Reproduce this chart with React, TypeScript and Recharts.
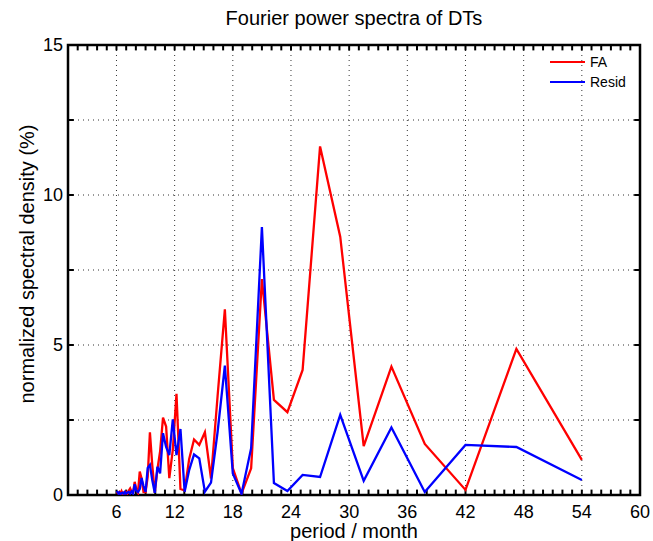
import React from 'react';
import {
  LineChart, Line, XAxis, YAxis, CartesianGrid, ReferenceLine, ReferenceArea, Legend,
} from 'recharts';

// period (months), ascending
const PERIOD = [
  6.00, 6.10, 6.20, 6.30, 6.41, 6.52, 6.63, 6.75, 6.87, 7.00,
  7.13, 7.27, 7.41, 7.56, 7.71, 7.88, 8.04, 8.22, 8.40, 8.59,
  8.79, 9.00, 9.22, 9.45, 9.69, 9.95, 10.22, 10.50, 10.80, 11.12,
  11.45, 11.81, 12.19, 12.60, 13.03, 13.50, 14.00, 14.54, 15.12, 15.75,
  16.43, 17.18, 18.00, 18.90, 19.89, 21.00, 22.24, 23.63, 25.20, 27.00,
  29.08, 31.50, 34.36, 37.80, 42.00, 47.25, 54.00,
];

const FA = [
  0.05, 0.08, 0.06, 0.10, 0.05, 0.13, 0.04, 0.08, 0.05, 0.10,
  0.05, 0.15, 0.22, 0.10, 0.08, 0.44, 0.20, 0.08, 0.78, 0.55,
  0.10, 0.10, 0.60, 2.09, 1.00, 0.07, 0.85, 1.45, 2.58, 2.28,
  0.56, 1.50, 3.37, 0.20, 0.15, 1.20, 1.85, 1.67, 2.09, 0.55,
  3.30, 6.19, 0.90, 0.05, 0.89, 7.20, 3.17, 2.76, 4.17, 11.62,
  8.61, 1.63, 4.28, 1.70, 0.17, 4.87, 1.17,
];

const RESID = [
  0.08, 0.10, 0.05, 0.08, 0.03, 0.06, 0.08, 0.04, 0.10, 0.05,
  0.08, 0.10, 0.05, 0.12, 0.05, 0.36, 0.15, 0.10, 0.20, 0.57,
  0.30, 0.10, 0.90, 1.00, 0.50, 0.07, 0.94, 0.72, 2.06, 1.60,
  1.33, 2.52, 1.33, 2.20, 0.11, 0.83, 1.35, 1.22, 0.11, 0.41,
  2.10, 4.31, 0.72, 0.04, 1.56, 8.93, 0.40, 0.13, 0.67, 0.60,
  2.67, 0.47, 2.25, 0.10, 1.67, 1.60, 0.50,
];

const X_TICKS = [6, 12, 18, 24, 30, 36, 42, 48, 54, 60];
const Y_TICKS = [0, 5, 10, 15];
const GRID_X = [6, 12, 18, 24, 30, 36, 42, 48, 54];
const GRID_Y = [2.5, 5, 7.5, 10, 12.5];
const MINOR_X = Array.from({ length: 58 }, (_, i) => i + 2);
const X_DOMAIN: [number, number] = [1, 60];
const Y_DOMAIN: [number, number] = [0, 15];

const FONT = '"Liberation Sans", Arial, Helvetica, sans-serif';

const data = PERIOD.map((p, i) => ({ period: p, FA: FA[i], Resid: RESID[i] }));

const LegendBox = () => (
  <div style={{ fontFamily: FONT, fontSize: 14, color: '#000' }}>
    {[{ name: 'FA', color: '#ff0000' }, { name: 'Resid', color: '#0000ff' }].map((s) => (
      <div key={s.name} style={{ display: 'flex', alignItems: 'center', height: 20 }}>
        <svg width={38} height={20} style={{ display: 'block' }}>
          <line x1={1} y1={10} x2={36} y2={10} stroke={s.color} strokeWidth={2.2} />
        </svg>
        <span style={{ marginLeft: 3, lineHeight: '20px' }}>{s.name}</span>
      </div>
    ))}
  </div>
);

export default function App() {
  return (
    <div style={{ position: 'relative', width: 653, height: 541, background: '#fff' }}>
      <style>{'body{margin:0;background:#fff;}'}</style>
      <div
        style={{
          position: 'absolute', top: 6, left: 68, width: 572, textAlign: 'center',
          fontFamily: FONT, fontSize: 20, lineHeight: '24px', color: '#000',
        }}
      >
        Fourier power spectra of DTs
      </div>
      <LineChart
        width={653}
        height={541}
        data={data}
        margin={{ top: 45, right: 13, bottom: 0, left: 0 }}
      >
        <CartesianGrid
          verticalValues={GRID_X}
          horizontalValues={GRID_Y}
          stroke="#333"
          strokeDasharray="1 4"
          strokeWidth={1}
        />
        <XAxis
          dataKey="period"
          type="number"
          domain={X_DOMAIN}
          allowDataOverflow
          ticks={X_TICKS}
          interval={0}
          tickLine={false}
          axisLine={false}
          tickSize={0}
          tickMargin={10}
          height={46}
          tick={{ fill: '#000', fontSize: 18, fontFamily: FONT }}
          label={{
            value: 'period / month', position: 'insideBottom', offset: 3,
            style: { fill: '#000', fontSize: 20, fontFamily: FONT },
          }}
        />
        <YAxis
          type="number"
          domain={Y_DOMAIN}
          allowDataOverflow
          ticks={Y_TICKS}
          interval={0}
          tickLine={false}
          axisLine={false}
          tickSize={0}
          tickMargin={5}
          width={68}
          tick={{ fill: '#000', fontSize: 18, fontFamily: FONT }}
          label={{
            value: 'normalized spectral density (%)', angle: -90, position: 'center', dx: -7, dy: -6,
            style: { fill: '#000', fontSize: 20, fontFamily: FONT, textAnchor: 'middle' },
          }}
        />
        {MINOR_X.map((v) => (
          <ReferenceLine
            key={`b${v}`}
            segment={[{ x: v, y: 0 }, { x: v, y: 0.18 }]}
            stroke="#000"
            strokeWidth={2}
          />
        ))}
        {MINOR_X.map((v) => (
          <ReferenceLine
            key={`t${v}`}
            segment={[{ x: v, y: 15 }, { x: v, y: 14.82 }]}
            stroke="#000"
            strokeWidth={2}
          />
        ))}
        {GRID_Y.map((v) => (
          <ReferenceLine
            key={`l${v}`}
            segment={[{ x: 1, y: v }, { x: 1.6, y: v }]}
            stroke="#000"
            strokeWidth={2}
          />
        ))}
        {GRID_Y.map((v) => (
          <ReferenceLine
            key={`r${v}`}
            segment={[{ x: 60, y: v }, { x: 59.4, y: v }]}
            stroke="#000"
            strokeWidth={2}
          />
        ))}
        <Line
          type="linear"
          dataKey="FA"
          name="FA"
          stroke="#ff0000"
          strokeWidth={2.3}
          dot={false}
          activeDot={false}
          isAnimationActive={false}
        />
        <Line
          type="linear"
          dataKey="Resid"
          name="Resid"
          stroke="#0000ff"
          strokeWidth={2.3}
          dot={false}
          activeDot={false}
          isAnimationActive={false}
        />
        <ReferenceArea
          x1={1}
          x2={60}
          y1={0}
          y2={15}
          fill="none"
          fillOpacity={0}
          stroke="#000"
          strokeWidth={2.5}
          ifOverflow="visible"
        />
        <Legend
          layout="vertical"
          align="center"
          verticalAlign="middle"
          content={() => <LegendBox />}
          wrapperStyle={{ top: 52, left: 549, width: 90, height: 40 }}
        />
      </LineChart>
    </div>
  );
}
